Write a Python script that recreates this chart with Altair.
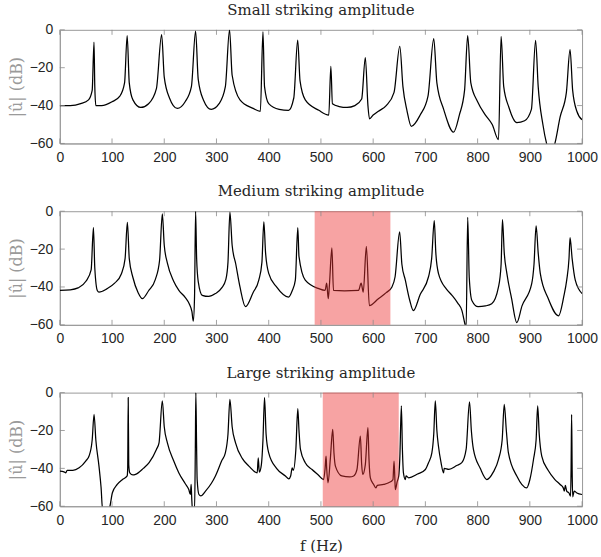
import altair as alt
import pandas as pd

titles = ["Small striking amplitude", "Medium striking amplitude", "Large striking amplitude"]

f_small = [0, 20, 40, 55, 62, 65.5, 67, 69, 80, 100, 115, 124, 129, 133, 140, 155, 170, 185, 195, 200,
           210, 225, 240, 252, 260, 265, 275, 290, 305, 317, 325, 330, 345, 370, 384, 389, 392, 400, 420,
           438, 448, 455.5, 460, 470, 496, 515, 519, 522, 535, 550, 565, 578, 585, 590, 593, 600, 610, 625,
           640, 651, 657, 665, 673, 690, 705, 716, 722, 735, 754, 765, 775, 781, 787, 800, 815, 828, 840,
           845, 850, 860, 875, 890, 903, 911, 916, 925, 932, 940, 948, 958, 970, 977, 982, 990, 1000]
db_small = [-40, -40, -39, -37, -32, -6.5, -30, -40, -40, -38, -35, -28, -3, -28, -37, -41, -39, -31, -2.5, -25,
            -36, -41.5, -38, -30, -0.7, -26, -37, -42, -39, -30, 0, -24, -37, -41.5, -43, -1, -30, -39, -42,
            -42.5, -36, -5.5, -27, -37, -42.5, -45, -19.3, -39, -40.5, -41, -40, -36.5, -14.7, -40, -47, -45, -43, -40,
            -33, -8.8, -30, -43, -51, -45, -35, -4.7, -28, -42, -54, -45, -32, -3, -28, -38, -45, -50, -58,
            -3.5, -30, -41, -49, -48, -42, -5.6, -30, -50, -60, -66, -60, -46, -33, -10.5, -32, -43, -47.5]

f_medium = [0, 20, 35, 50, 60, 64.4, 67, 72, 75, 90, 105, 118, 125, 129.4, 133, 140, 150, 158, 170, 183,
            191, 196.3, 200, 206, 218, 228, 240, 248, 253, 255.6, 258, 260, 262, 265, 272.8, 285, 298, 310,
            318, 322, 325.7, 330, 337, 345, 355.6, 370, 381, 387, 390.7, 394, 400, 415, 438, 445, 451, 455.7,
            458, 470, 496, 508, 511, 514, 516, 521, 524, 545, 572, 577, 581, 587, 592.7, 610, 625, 636, 642,
            650.7, 655, 661.6, 670, 677, 690, 706, 712, 717, 720, 725, 740, 751, 762, 770, 776, 778, 781, 784,
            789, 801, 815, 827, 840, 845, 847.6, 851, 856, 865, 875, 885, 903.6, 908, 912, 916, 920, 935, 955,
            965, 970.6, 975, 977, 981, 987, 1000]
db_medium = [-41.8, -41.5, -40.5, -37, -31, -8.6, -30, -42, -42.7, -41, -38, -33, -25, -5.9, -25, -35, -43, -46.2, -42, -36,
             -26, -1.4, -18, -27.4, -37, -41.8, -45.5, -49, -53, -58, -45, 0, -25, -37, -44.4, -45, -43.5, -40.5,
             -36, -27, -0.5, -18, -28, -40, -50.4, -43, -36.4, -27, -5.6, -22, -32.8, -40, -45.3, -42, -36.4, -8.6,
             -24, -36.4, -40.9, -41.8, -38, -46.2, -40, -19.4, -41.8, -42, -41.8, -38, -42.7, -18.5, -49.8, -46.2, -43, -40, -34.6,
             -10.9, -28, -36.4, -47, -52.5, -44, -34.6, -25, -5, -22, -32.8, -41, -44.4, -48.5, -52.5, -60, -62, -3.2, -35,
             -47.1, -50.4, -50, -48.9, -40, -28, -4.5, -22, -32.8, -46, -58.8, -50, -38.2, -28, -7.7, -22, -32.8, -46, -55.2,
             -45, -36.4, -25, -14, -25, -36.4, -43.5]

f_large = [0, 8, 11.5, 14, 25, 37, 50, 56, 62, 65.6, 69, 75, 79, 82, 94, 96, 100.7, 110, 120, 129, 130, 131, 132,
           134, 140, 145, 160, 171, 185, 190, 196.3, 200, 206, 218, 228, 240, 247, 250, 251.5, 252.5, 254, 258,
           259.5, 260.5, 262, 263, 266.4, 270, 279, 290, 298, 310, 317, 322, 325.7, 330, 336.5, 350, 362, 378,
           380, 382, 386, 389, 392, 395, 400, 415, 432, 438.5, 442, 445, 447, 452, 455.7, 458, 460.8, 470, 483,
           495, 505, 508, 509.8, 511, 513.6, 518, 522.6, 525, 527.7, 540, 555, 562.7, 569, 575.5, 578, 580, 585,
           590, 592, 594.6, 601, 605, 608, 620, 629.6, 637.9, 640, 641.5, 642.4, 646, 649, 651, 654, 656, 658,
           661.6, 663, 668, 685, 700, 706, 712.4, 716, 719, 722, 725, 730, 734.8, 736, 745, 760, 769.8, 778,
           784.5, 788, 792, 805, 817.6, 830, 840, 847, 851, 855, 859, 875, 894, 900, 907, 912, 915, 918, 922.8,
           935, 948, 958, 964, 966, 968, 970.6, 975, 978, 979, 980, 981, 982, 985, 990, 1000]
db_large = [-41.5, -41.8, -42.4, -41, -41, -39.7, -36, -33.5, -25, -11.5, -25, -38.8, -50, -62, -62, -60, -52.9, -48.5, -45.9, -44, -40, -2.6, -38,
            -42.4, -43.5, -43.2, -40, -37, -30, -26.5, -4.4, -18, -26.5, -36, -42.4, -48, -51.2, -53.8, -48.5, -55, -62, -62,
            -30, 0, -30, -45.9, -53.8, -54.5, -52, -48, -44, -36, -31.8, -22, -3.5, -18, -26.5, -35, -38.8, -42.4,
            -34.4, -42, -38, -25, -2.6, -22, -31.8, -40, -44, -45.5, -44, -39.7, -41, -30, -8.5, -20, -30, -37, -40.6,
            -43.5, -45.9, -40, -33.5, -40, -47.6, -35, -19.4, -32, -38.8, -44, -44.5, -44, -40.6, -23, -38, -43.2, -38,
            -18.5, -35, -45, -48.5, -50.3, -49, -48.5, -47.6, -45.9, -36.2, -45, -51.2, -47, -44, -35, -7, -30, -42.4,
            -45.9, -44, -45, -43, -40.6, -37, -31.8, -22, -4.4, -20, -28.2, -37, -42.4, -40, -40.5, -38.5, -37, -30,
            -4.9, -20, -30, -40, -45.9, -42, -35.3, -25, -6.2, -20, -31.8, -44, -50.3, -46, -35.3, -25, -7, -22, -33.5,
            -41, -45.9, -48.5, -50.3, -52, -49, -52, -53, -54.7, -40, -11.5, -40, -55, -52, -53, -53.8]

shade_start = [None, 488, 503.5]
shade_end = [None, 633, 649]

x_ticks = [0, 100, 200, 300, 400, 500, 600, 700, 800, 900, 1000]
y_ticks = [-60, -40, -20, 0]

W, H = 524, 114
TICK = "#8c8c8c"
xs = alt.Scale(domain=[0, 1000], nice=False)
ys = alt.Scale(domain=[-60, 0], nice=False)


def panel(i, f, db, last):
    df = pd.DataFrame({"f": f, "db": db})
    xaxis = alt.Axis(values=x_ticks, format="d", ticks=False, labelPadding=7, grid=False,
                     labelFlush=False, title="f (Hz)" if last else None)
    yaxis = alt.Axis(values=y_ticks, format="d", ticks=False, grid=False, labelPadding=7,
                     labelFlush=False, title="|û| (dB)")
    line = alt.Chart(df).mark_line(color="black", strokeWidth=1.25, clip=True,
                                   interpolate="monotone").encode(
        x=alt.X("f:Q", scale=xs, axis=xaxis), y=alt.Y("db:Q", scale=ys, axis=yaxis))
    layers = [line]
    if shade_start[i] is not None:
        sdf = pd.DataFrame({"a": [shade_start[i]], "b": [shade_end[i]]})
        rect = alt.Chart(sdf).mark_rect(color="#ee3333", opacity=0.45).encode(
            x=alt.X("a:Q", scale=xs, axis=xaxis), x2="b:Q",
            y=alt.value(0), y2=alt.value(H))
        layers.append(rect)
    xt = pd.DataFrame({"t": x_ticks})
    yt = pd.DataFrame({"t": y_ticks})
    layers.append(alt.Chart(xt).mark_rule(color=TICK, strokeWidth=0.8).encode(
        x=alt.X("t:Q", scale=xs, axis=xaxis), y=alt.value(H), y2=alt.value(H - 5)))
    layers.append(alt.Chart(xt).mark_rule(color=TICK, strokeWidth=0.8).encode(
        x=alt.X("t:Q", scale=xs, axis=xaxis), y=alt.value(0), y2=alt.value(5)))
    layers.append(alt.Chart(yt).mark_rule(color=TICK, strokeWidth=0.8).encode(
        y=alt.Y("t:Q", scale=ys, axis=yaxis), x=alt.value(0), x2=alt.value(5)))
    layers.append(alt.Chart(yt).mark_rule(color=TICK, strokeWidth=0.8).encode(
        y=alt.Y("t:Q", scale=ys, axis=yaxis), x=alt.value(W - 5), x2=alt.value(W)))
    return alt.layer(*layers).properties(
        width=W, height=H,
        title=alt.TitleParams(titles[i], font="DejaVu Serif", fontSize=15, fontWeight="normal",
                              color="#262626", offset=5, anchor="middle"))


chart = alt.vconcat(
    panel(0, f_small, db_small, False),
    panel(1, f_medium, db_medium, False),
    panel(2, f_large, db_large, True),
    spacing=18,
).properties(
    padding={"left": 7, "top": 1, "right": 2, "bottom": 2}
).configure_view(
    stroke="#9a9a9a", strokeWidth=1
).configure_axis(
    labelFont="Liberation Sans", labelFontSize=14, labelColor="#262626",
    domainColor="#9a9a9a", domainWidth=1,
    titleFont="DejaVu Serif", titleFontSize=15, titleFontWeight="normal",
).configure_axisY(
    titleColor="#9a9a9a", titlePadding=5, titleFontSize=16
).configure_axisX(
    titleColor="#262626", titlePadding=11
)

chart.save("out.html", embed_options={"renderer": "svg", "actions": False})
